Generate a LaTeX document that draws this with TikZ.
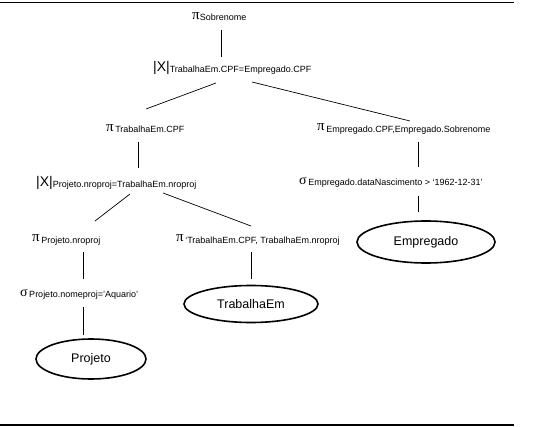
\documentclass[tikz,border=0pt]{standalone}
\usepackage{fontspec}
\setmainfont{Liberation Sans}
\newfontfamily\grkfont{Liberation Serif}
\usetikzlibrary{shapes.geometric,calc}
\newcommand\opPi{{\grkfont\fontsize{15}{15}\selectfont π}}
\newcommand\opSigma{{\grkfont\fontsize{14}{14}\selectfont σ}}
\newcommand\opJoin{{\fontsize{14}{14}\selectfont|X|}}
\begin{document}
\begin{tikzpicture}[x=1pt,y=-1pt,
  op/.style={anchor=west,inner sep=0pt,font=\fontsize{9}{10}\selectfont},
  rel/.style={draw,ellipse,line width=1.6pt,inner sep=0pt,font=\fontsize{12.5}{14}\selectfont},
  edge/.style={line width=0.7pt},
  rule/.style={line width=1.4pt}]
\useasboundingbox (0,0) rectangle (534,427);
\coordinate (tl) at (0,2.5);
\coordinate (tr) at (514,2.5);
\coordinate (bl) at (0,425);
\coordinate (br) at (514,425);
\draw[rule] (tl) -- (tr);
\draw[rule] (bl) -- (br);

\node[op] (top) at (192,17) {\opPi\raisebox{-1.2pt}{Sobrenome}};
\node[op] (j1) at (153,68) {\opJoin\raisebox{-1.5pt}{TrabalhaEm.CPF=Empregado.CPF}};
\node[op] (p1) at (106,129) {\opPi\,\raisebox{-1.2pt}{TrabalhaEm.CPF}};
\node[op] (p2) at (317,129) {\opPi\,\raisebox{-1.2pt}{Empregado.CPF,Empregado.Sobrenome}};
\node[op] (j2) at (36,183) {\opJoin\raisebox{-1.5pt}{Projeto.nroproj=TrabalhaEm.nroproj}};
\node[op] (s1) at (299,182) {\opSigma\,\raisebox{-1.2pt}{Empregado.dataNascimento > ‘1962-12-31’}};
\node[op] (p3) at (32,240) {\opPi\,\raisebox{-1.2pt}{Projeto.nroproj}};
\node[op] (p4) at (176,240) {\opPi\,\raisebox{-1.2pt}{‘TrabalhaEm.CPF, TrabalhaEm.nroproj}};
\node[op] (s2) at (20,294) {\opSigma\,\raisebox{-1.2pt}{Projeto.nomeproj=’Aquario’}};

\node[rel,minimum width=138pt,minimum height=42pt] (emp) at (426,242) {Empregado};
\node[rel,minimum width=134pt,minimum height=37pt] (te) at (251,304) {TrabalhaEm};
\node[rel,minimum width=110pt,minimum height=40pt] (proj) at (91,359) {Projeto};

\draw[edge] ($(top.west)+(29,13)$) -- ($(j1.west)+(68,-11)$);
\draw[edge] ($(j1.west)+(63,15)$) -- ($(p1.west)+(40,-20)$);
\draw[edge] ($(j1.west)+(99,14)$) -- ($(p2.west)+(93,-8)$);
\draw[edge] ($(p1.west)+(32,13)$) -- ($(j2.west)+(102,-15)$);
\draw[edge] ($(p2.west)+(101,13)$) -- ($(s1.west)+(119,-15)$);
\draw[edge] ($(s1.west)+(119,14)$) -- ($(emp.north)+(-8,-8)$);
\draw[edge] ($(j2.west)+(94,11)$) -- ($(p3.west)+(63,-19)$);
\draw[edge] ($(j2.west)+(127,10)$) -- ($(p4.west)+(75,-14)$);
\draw[edge] ($(p3.west)+(51,12)$) -- ($(s2.west)+(63,-15)$);
\draw[edge] ($(p4.west)+(75,12)$) -- ($(te.north)+(0,-6)$);
\draw[edge] ($(s2.west)+(63,13)$) -- ($(proj.north)+(-8,-3)$);
\end{tikzpicture}
\end{document}
